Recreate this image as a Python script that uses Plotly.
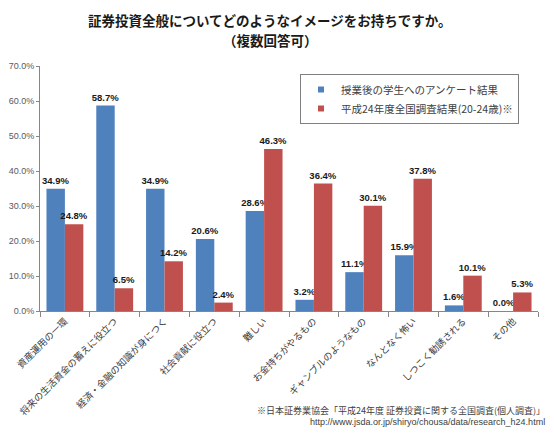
import plotly.graph_objects as go

categories = ["資産運用の一環", "将来の生活資金の蓄えに役立つ", "経済・金融の知識が身につく",
              "社会貢献に役立つ", "難しい", "お金持ちがやるもの", "ギャンブルのようなもの",
              "なんとなく怖い", "しつこく勧誘される", "その他"]
series_names = ["授業後の学生へのアンケート結果", "平成24年度全国調査結果(20-24歳)※"]
students = [34.9, 58.7, 34.9, 20.6, 28.6, 3.2, 11.1, 15.9, 1.6, 0.0]
national = [24.8, 6.5, 14.2, 2.4, 46.3, 36.4, 30.1, 37.8, 10.1, 5.3]
colors = ["#4F81BD", "#C0504D"]
y_ticks = [0, 10, 20, 30, 40, 50, 60, 70]
y_tick_text = [f"{v:.1f}%" for v in y_ticks]
title_lines = ["証券投資全般についてどのようなイメージをお持ちですか。", "（複数回答可）"]

JP = "Noto Sans CJK JP"
fig = go.Figure()
for name, vals, col in zip(series_names, [students, national], colors):
    fig.add_trace(go.Bar(
        x=categories, y=vals, name=name, marker=dict(color=col, line=dict(width=0)),
        texttemplate="<b>%{y:.1f}%</b>", textposition="outside", cliponaxis=False,
        constraintext="none",
        textfont=dict(family="Liberation Sans", size=9.5, color="#1a1a1a"),
        showlegend=False,
    ))
    fig.add_trace(go.Scatter(
        x=[None], y=[None], mode="markers", name=name,
        marker=dict(symbol="square", size=6, color=col), showlegend=True,
    ))

fig.update_layout(
    width=554, height=433,
    margin=dict(l=40, r=16, t=66, b=122),
    paper_bgcolor="white", plot_bgcolor="white",
    barmode="group", bargap=0.26, bargroupgap=0,
    font=dict(family=JP, size=10, color="#404040"),
    legend=dict(
        x=(300 - 40) / 498, y=(311 - 74) / 245, xanchor="left", yanchor="top",
        bgcolor="white", bordercolor="#808080", borderwidth=1,
        font=dict(family=JP, size=10.5, color="#404040"),
        tracegroupgap=7, traceorder="normal", itemwidth=30,
    ),
    xaxis=dict(
        showline=True, linecolor="#868686", linewidth=1, automargin=False,
        ticks="outside", ticklen=5, tickcolor="#868686", tickson="boundaries",
        tickangle=-45, tickfont=dict(family=JP, size=9.5, color="#404040"),
        showgrid=False,
    ),
    yaxis=dict(
        range=[0, 70], tickvals=y_ticks, ticktext=y_tick_text, automargin=False,
        showline=True, linecolor="#868686", linewidth=1,
        ticks="outside", ticklen=3, tickcolor="#868686",
        tickfont=dict(family="Liberation Sans", size=9, color="#595959"),
        showgrid=False, zeroline=False,
    ),
)

for line, ypix in zip(title_lines, [20, 40]):
    fig.add_annotation(text=f"<b>{line}</b>",
                       xref="paper", yref="paper", x=(270 - 40) / 498, y=(311 - ypix) / 245,
                       xanchor="center", yanchor="middle", showarrow=False,
                       font=dict(family=JP, size=13.5, color="#1a1a1a"))
fig.add_annotation(text="※日本証券業協会「平成24年度 証券投資に関する全国調査(個人調査)」",
                   xref="paper", yref="paper", x=(547 - 40) / 498, y=(311 - 410) / 245,
                   xanchor="right", yanchor="middle", showarrow=False,
                   font=dict(family=JP, size=9, color="#404040"))
fig.add_annotation(text="http://www.jsda.or.jp/shiryo/chousa/data/research_h24.html",
                   xref="paper", yref="paper", x=(547 - 40) / 498, y=(311 - 422) / 245,
                   xanchor="right", yanchor="middle", showarrow=False,
                   font=dict(family="Liberation Sans", size=9, color="#404040"))

fig.write_html("out.html", config={"displayModeBar": False},
               post_script="document.body.style.margin='0';")
